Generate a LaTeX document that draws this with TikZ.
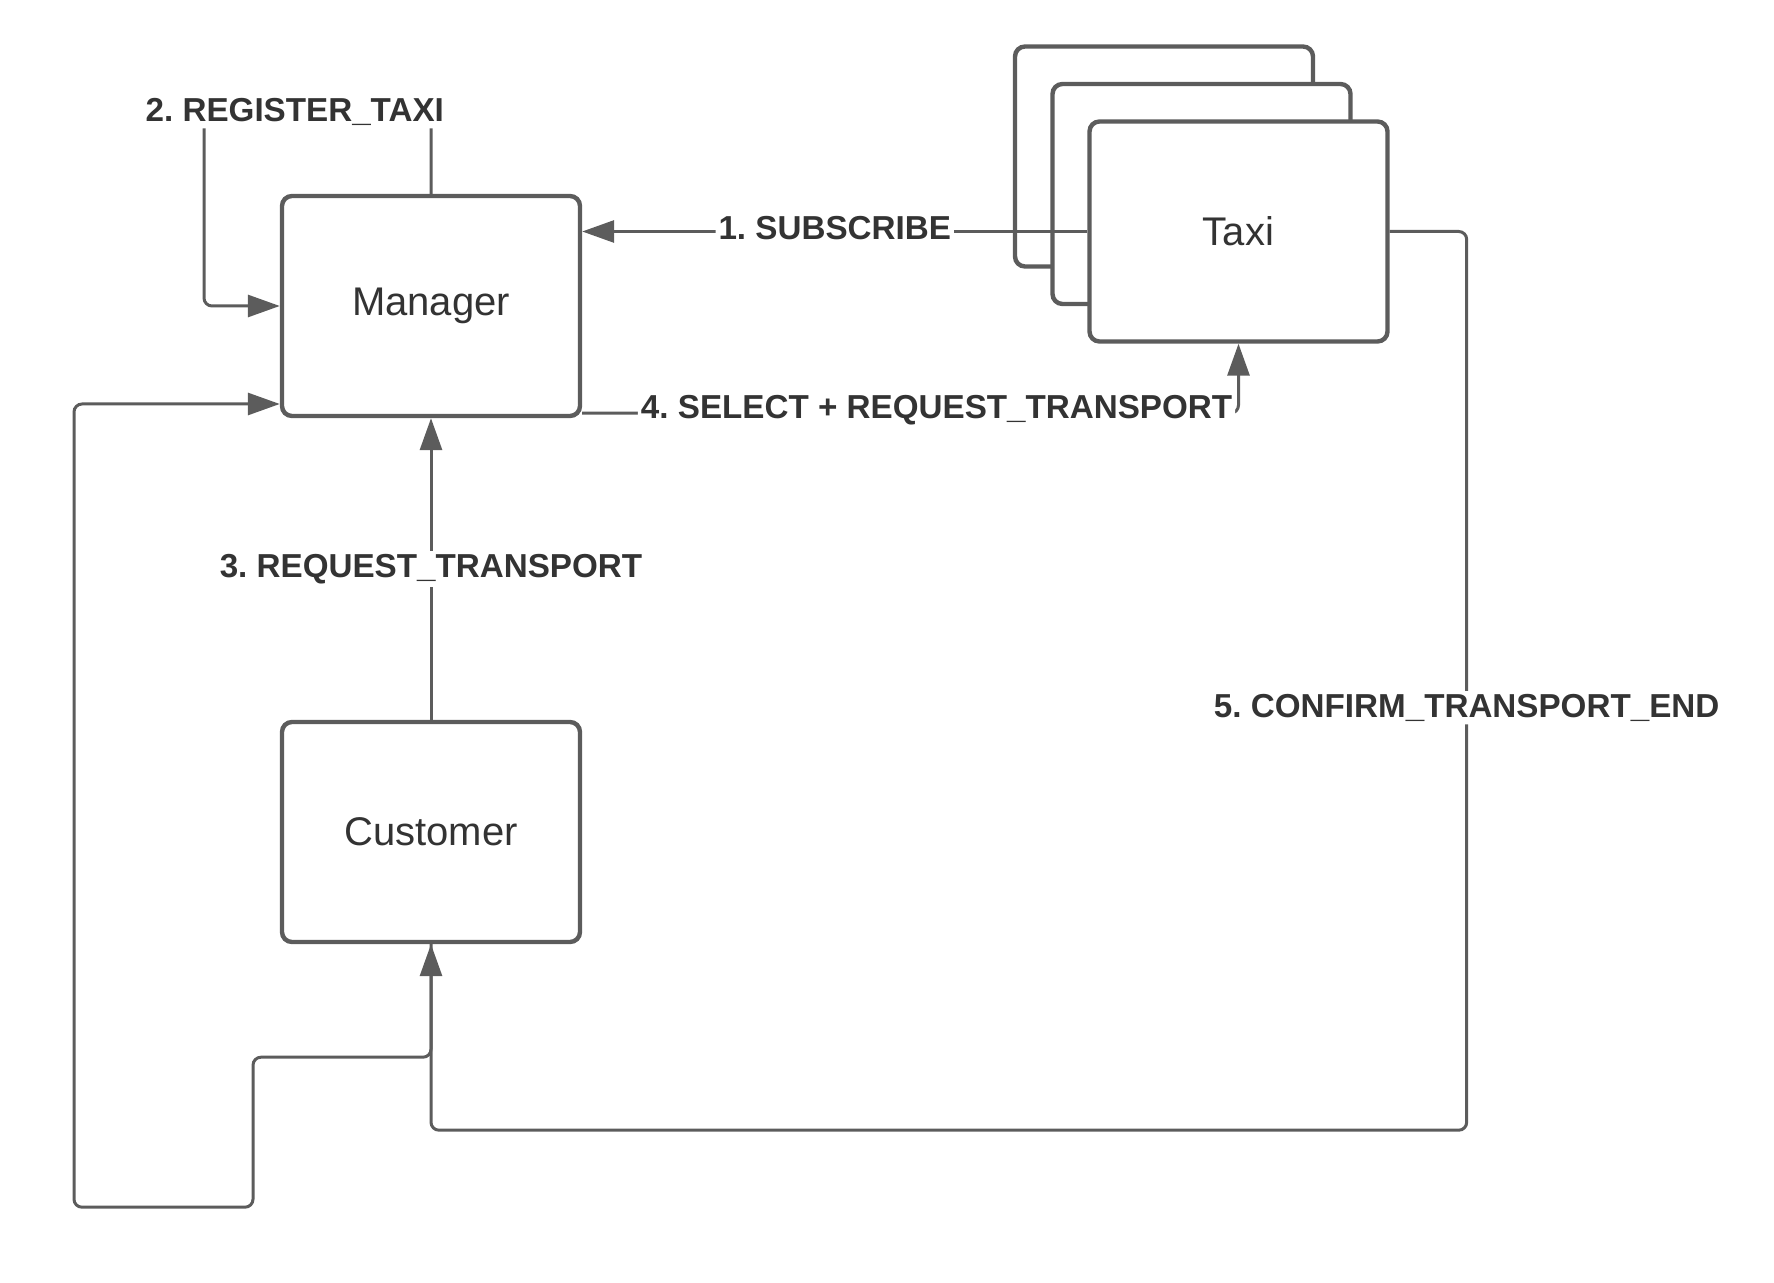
\documentclass[tikz,border=0pt]{standalone}
\usepackage{fontspec}
\setmainfont{Liberation Sans}
\usetikzlibrary{arrows.meta,calc}
\definecolor{linegray}{RGB}{92,92,92}
\definecolor{textgray}{RGB}{51,51,51}
\frenchspacing
\begin{document}
\begin{tikzpicture}[x=0.5pt,y=-0.5pt,
    box/.style={draw=linegray, line width=2.2pt, rounded corners=5pt, fill=white,
        minimum width=149pt, minimum height=110pt, text=textgray,
        font=\fontsize{20}{24}\selectfont},
    msg/.style={draw=linegray, line width=1.5pt, rounded corners=4pt,
        -{Triangle[length=16pt,width=11pt]}},
    lbl/.style={fill=white, inner sep=1.5pt, text=textgray,
        font=\bfseries\fontsize{16.6}{19}\selectfont}]
    \useasboundingbox (0,0) rectangle (1774,1283);

    \node[box] (taxic) at (1164,156.5) {};
    \node[box] (taxib) at (1201.5,194) {};
    \node[box] (taxi) at (1238.5,231.5) {Taxi};
    \node[box] (manager) at (431,306) {Manager};
    \node[box] (customer) at (431,832) {Customer};

    \draw[msg] (taxi.west) to node[lbl,yshift=1.5pt] {1. SUBSCRIBE} (taxi.west -| manager.east);
    \draw[msg] (manager.north) -- ++(0,-82) -- node[lbl,pos=0.6] {2. REGISTER\_TAXI} ++(-227,0) |- (manager.west);
    \draw[msg] (customer.north) to node[lbl] {3. REQUEST\_TRANSPORT} (manager.south);
    \draw[msg] ([yshift=2.5pt]manager.south east) -| node[lbl,pos=0.27,yshift=1.5pt] {4. SELECT + REQUEST\_TRANSPORT} (taxi.south);
    \draw[msg] (taxi.east) -- ++(77,0) |- node[lbl,pos=0.265] {5. CONFIRM\_TRANSPORT\_END} ($(customer.south)+(0,186)$) -- (customer.south);
    \draw[msg] (customer.south) -- ++(0,113) -- ++(-178,0) -- ++(0,150) -- ++(-179,0) |- ($(manager.west)+(0,98)$);
\end{tikzpicture}
\end{document}
